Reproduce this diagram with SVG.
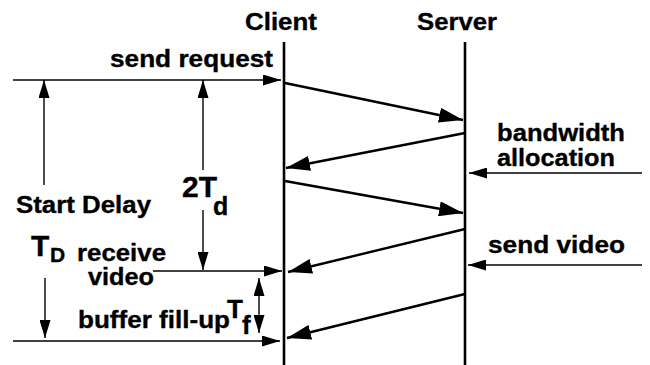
<svg xmlns="http://www.w3.org/2000/svg" width="650" height="365" viewBox="0 0 650 365">
  <defs>
    <style>
      text { font-family: "Liberation Sans", Arial, Helvetica, sans-serif; font-weight: bold; fill: #000; stroke: #000; stroke-width: 0.35; }
      .lbl { font-size: 24px; }
      .life { stroke: #000; stroke-width: 2.6; fill: none; }
      .thin { stroke: #000; stroke-width: 1.4; fill: none; }
      .msg { stroke: #000; stroke-width: 2.4; fill: none; }
      .thin-arrow { marker-end: url(#headThin); }
      .msg-arrow { marker-end: url(#headBold); }
    </style>
    <marker id="headThin" markerUnits="userSpaceOnUse" markerWidth="18" markerHeight="11" refX="18" refY="5.5" orient="auto-start-reverse">
      <path d="M0,0 L18,5.5 L0,11 z" fill="#000"/>
    </marker>
    <marker id="headBold" markerUnits="userSpaceOnUse" markerWidth="24" markerHeight="15" refX="24" refY="7.5" orient="auto">
      <path d="M0,0 L24,7.5 L0,15 z" fill="#000"/>
    </marker>
  </defs>

  <!-- lifelines -->
  <g id="client">
    <line class="life" x1="284" y1="42" x2="284" y2="365"/>
    <text class="lbl" x="245" y="30" textLength="72" lengthAdjust="spacingAndGlyphs">Client</text>
  </g>
  <g id="server">
    <line class="life" x1="465" y1="42" x2="465" y2="365"/>
    <text class="lbl" x="417" y="30" textLength="80" lengthAdjust="spacingAndGlyphs">Server</text>
  </g>

  <!-- event labels -->
  <g id="send-request">
    <text class="lbl" x="110" y="67" textLength="163" lengthAdjust="spacingAndGlyphs">send request</text>
  </g>
  <g id="bandwidth-allocation">
    <text class="lbl" x="497" y="141" textLength="128" lengthAdjust="spacingAndGlyphs">bandwidth</text>
    <text class="lbl" x="497" y="166" textLength="118" lengthAdjust="spacingAndGlyphs">allocation</text>
  </g>
  <g id="send-video">
    <text class="lbl" x="488" y="253" textLength="137" lengthAdjust="spacingAndGlyphs">send video</text>
  </g>
  <g id="start-delay">
    <text class="lbl" x="16" y="213" textLength="135" lengthAdjust="spacingAndGlyphs">Start Delay</text>
    <text x="31" y="256" font-size="30">T</text>
    <text x="50" y="262" font-size="21">D</text>
  </g>
  <g id="round-trip">
    <text x="182" y="197" font-size="30">2T</text>
    <text x="213" y="215" font-size="25">d</text>
  </g>
  <g id="receive-video">
    <text class="lbl" x="77" y="261" textLength="89" lengthAdjust="spacingAndGlyphs">receive</text>
    <text class="lbl" x="88" y="285" textLength="66" lengthAdjust="spacingAndGlyphs">video</text>
  </g>
  <g id="buffer-fill">
    <text class="lbl" x="78" y="328" textLength="152" lengthAdjust="spacingAndGlyphs">buffer fill-up</text>
    <text x="227" y="318" font-size="26">T</text>
    <text x="242" y="334" font-size="26">f</text>
  </g>

  <!-- connectors -->
  <g id="connectors">
    <!-- messages between client and server -->
    <line class="msg msg-arrow" x1="285" y1="83" x2="463" y2="120"/>
    <line class="msg msg-arrow" x1="465" y1="133" x2="286" y2="168"/>
    <line class="msg msg-arrow" x1="285" y1="181" x2="463" y2="213"/>
    <line class="msg msg-arrow" x1="465" y1="229" x2="288" y2="272"/>
    <line class="msg msg-arrow" x1="465" y1="294" x2="287" y2="338"/>

    <!-- horizontal time markers -->
    <line class="thin thin-arrow" x1="13" y1="80" x2="281" y2="80"/>
    <line class="thin thin-arrow" x1="153" y1="271" x2="282" y2="271"/>
    <line class="thin thin-arrow" x1="13" y1="341" x2="280" y2="341"/>
    <line class="thin thin-arrow" x1="642" y1="173" x2="469" y2="173"/>
    <line class="thin thin-arrow" x1="642" y1="265" x2="468" y2="265"/>

    <!-- start delay span -->
    <line class="thin thin-arrow" x1="44" y1="185" x2="44" y2="80"/>
    <line class="thin thin-arrow" x1="45" y1="278" x2="45" y2="338"/>

    <!-- round trip span -->
    <line class="thin thin-arrow" x1="203" y1="170" x2="203" y2="80"/>
    <line class="thin thin-arrow" x1="203" y1="210" x2="203" y2="270"/>

    <!-- buffer fill-up span -->
    <line class="thin" x1="259" y1="278" x2="259" y2="333" marker-start="url(#headThin)" marker-end="url(#headThin)"/>
  </g>
</svg>
